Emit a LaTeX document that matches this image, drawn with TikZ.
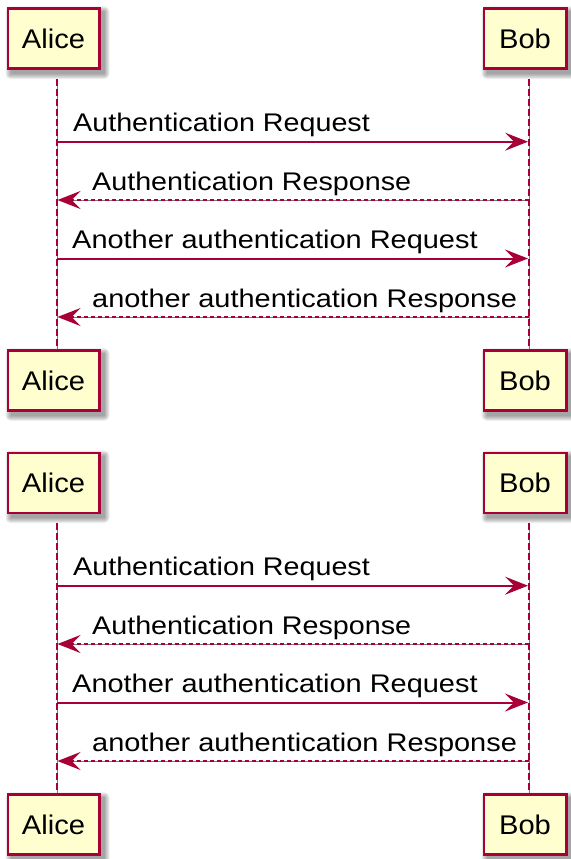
\documentclass[tikz,border=0pt]{standalone}
\usepackage{fontspec}
\setmainfont{Liberation Sans}
\usetikzlibrary{arrows.meta,backgrounds}
\definecolor{pcrimson}{HTML}{A80036}
\definecolor{pfill}{HTML}{FEFECE}
\definecolor{lgray}{HTML}{7A7A7A}
\tikzset{
  participant/.style={draw=pcrimson, fill=pfill, line width=2.5pt, minimum height=60pt,
    inner sep=0pt, font=\fontsize{27}{30}\selectfont},
  alicebox/.style={participant, minimum width=91.5pt},
  bobbox/.style={participant, minimum width=82.5pt},
  lifegray/.style={draw=lgray, line width=0.8pt},
  lifedash/.style={draw=pcrimson, line width=1.9pt, dash pattern=on 7pt off 3pt},
  tip/.style={-{Stealth[length=23pt,width=18pt,inset=9pt]}},
  reqline/.style={draw=pcrimson, line width=2pt, tip},
  resline/.style={draw=pcrimson, line width=2pt, dash pattern=on 4pt off 3pt, tip},
  msg/.style={anchor=base west, inner sep=0pt, font=\fontsize{25.5}{28}\selectfont},
  shade/.style={fill=black, opacity=0.07},
}
\begin{document}
\begin{tikzpicture}[x=1pt,y=-1pt]
\useasboundingbox (0,0) rectangle (570,859);
\foreach \d/\o in {1/0,2/444}{
  % participants
  \node[alicebox] (at\d) at (53.5,{38.75+\o}) {\scalebox{1.08}[1]{Alice}};
  \node[bobbox]   (bt\d) at (525,{38.75+\o}) {\scalebox{1.08}[1]{Bob}};
  \node[alicebox] (ab\d) at (53.5,{380.5+\o}) {\scalebox{1.08}[1]{Alice}};
  \node[bobbox]   (bb\d) at (525,{380.5+\o}) {\scalebox{1.08}[1]{Bob}};
  % shadows
  \begin{pgfonlayer}{background}
    \foreach \n in {at\d,bt\d,ab\d,bb\d}{
      \foreach \e in {0,1,2,3,4,5}{
        \fill[shade,rounded corners=\e pt] ([shift={(4-\e,4+\e)}]\n.south west)
          rectangle ([shift={(4+\e,4-\e)}]\n.north east);
      }
    }
  \end{pgfonlayer}
  % lifelines
  \coordinate (la\d) at (57,{79+\o});
  \coordinate (lb\d) at (529,{79+\o});
  \draw[lifegray] (la\d) -- (la\d |- ab\d.north);
  \draw[lifedash] (la\d) -- (la\d |- ab\d.north);
  \draw[lifegray] (lb\d) -- (lb\d |- bb\d.north);
  \draw[lifedash] (lb\d) -- (lb\d |- bb\d.north);
  % message end points
  \coordinate (q1a\d) at (57,{141.7+\o});  \coordinate (q1b\d) at (528,{141.7+\o});
  \coordinate (s1a\d) at (57.5,{200+\o});  \coordinate (s1b\d) at (529,{200+\o});
  \coordinate (q2a\d) at (57,{258.5+\o});  \coordinate (q2b\d) at (528,{258.5+\o});
  \coordinate (s2a\d) at (57.5,{317+\o});  \coordinate (s2b\d) at (529,{317+\o});
  % messages
  \draw[reqline] (q1a\d) -- (q1b\d);
  \draw[lifegray] (s1b\d) -- ([xshift=12pt]s1a\d);
  \draw[resline] (s1b\d) -- (s1a\d);
  \draw[reqline] (q2a\d) -- (q2b\d);
  \draw[lifegray] (s2b\d) -- ([xshift=12pt]s2a\d);
  \draw[resline] (s2b\d) -- (s2a\d);
  % labels
  \node[msg] (t1\d) at (73,{131.7+\o}) {\scalebox{1.125}[1]{Authentication Request}};
  \node[msg] (t2\d) at (92,{190+\o}) {\scalebox{1.125}[1]{Authentication Response}};
  \node[msg] (t3\d) at (72,{248.5+\o}) {\scalebox{1.135}[1]{Another authentication Request}};
  \node[msg] (t4\d) at (92,{307+\o}) {\scalebox{1.135}[1]{another authentication Response}};
}
\end{tikzpicture}
\end{document}
